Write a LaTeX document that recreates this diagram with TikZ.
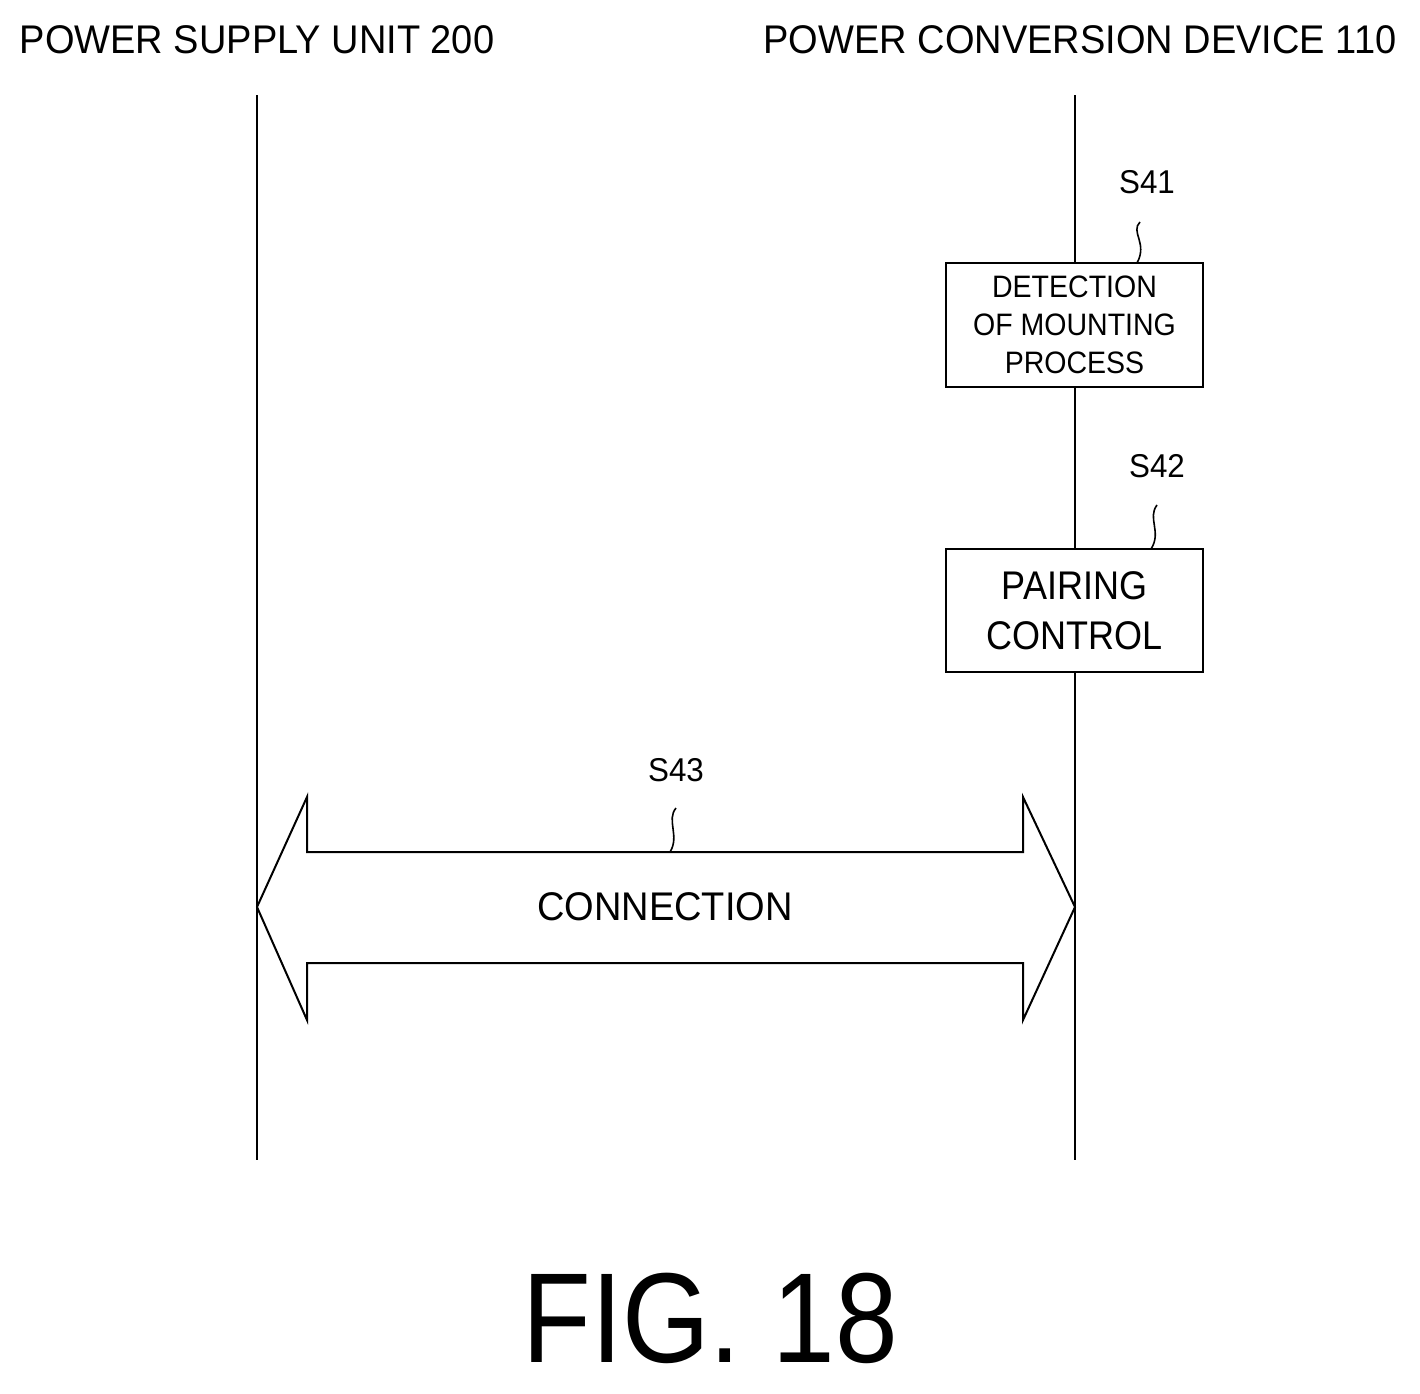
\documentclass[tikz,border=0pt]{standalone}
\usepackage{fontspec}
\setmainfont{Liberation Sans}
\begin{document}
\begin{tikzpicture}[x=1pt,y=-1pt,
  lbl/.style={inner sep=0pt,xscale=0.95,font=\fontsize{40}{44}\selectfont},
  box/.style={draw,line width=2pt,minimum width=257pt,inner sep=0pt,align=center},
  sq/.style={line width=1.6pt},
  life/.style={line width=2pt}]
\useasboundingbox (0,0) rectangle (1420,1393);
\node[lbl] (t1) at (257,40) {POWER SUPPLY UNIT 200};
\node[lbl] (t2) at (1080,40) {POWER CONVERSION DEVICE 110};
\coordinate (a1) at (257,95); \coordinate (a2) at (257,1160);
\coordinate (b1) at (1075,95); \coordinate (b2) at (1075,1160);
\draw[life] (a1) -- (a2);
\draw[life] (b1) -- (b2);
\node[box,minimum height=124pt,font=\fontsize{31}{38}\selectfont,fill=white] (s41) at (1074.5,325) {\scalebox{0.92}[1]{DETECTION}\\\scalebox{0.92}[1]{OF MOUNTING}\\\scalebox{0.92}[1]{PROCESS}};
\node[box,minimum height=123pt,font=\fontsize{40}{50}\selectfont,fill=white] (s42) at (1074.5,610.5) {\scalebox{0.9}[1]{PAIRING}\\\scalebox{0.9}[1]{CONTROL}};
\node[lbl,font=\fontsize{33}{36}\selectfont] (l41) at (1147,182) {S41};
\node[lbl,font=\fontsize{33}{36}\selectfont] (l42) at (1157,466) {S42};
\node[lbl,font=\fontsize{33}{36}\selectfont] (l43) at (676,770) {S43};
\draw[sq] (1140,222) .. controls (1130,232) and (1148,243) .. (1137,263);
\draw[sq] (1157,505) .. controls (1147,518) and (1162,532) .. (1151,549);
\draw[sq] (676,808) .. controls (666,820) and (680,836) .. (670,852);
\draw[line width=2pt,fill=white] (257,907) -- (307,797) -- (307,852) -- (1023,852) -- (1023,797)
  -- (1075,907) -- (1023,1020) -- (1023,963) -- (307,963) -- (307,1020) -- cycle;
\node[lbl] (c) at (665,907) {CONNECTION};
\node[inner sep=0pt,font=\fontsize{128}{132}\selectfont,xscale=0.88] (fig) at (710,1318) {FIG. 18};
\end{tikzpicture}
\end{document}
